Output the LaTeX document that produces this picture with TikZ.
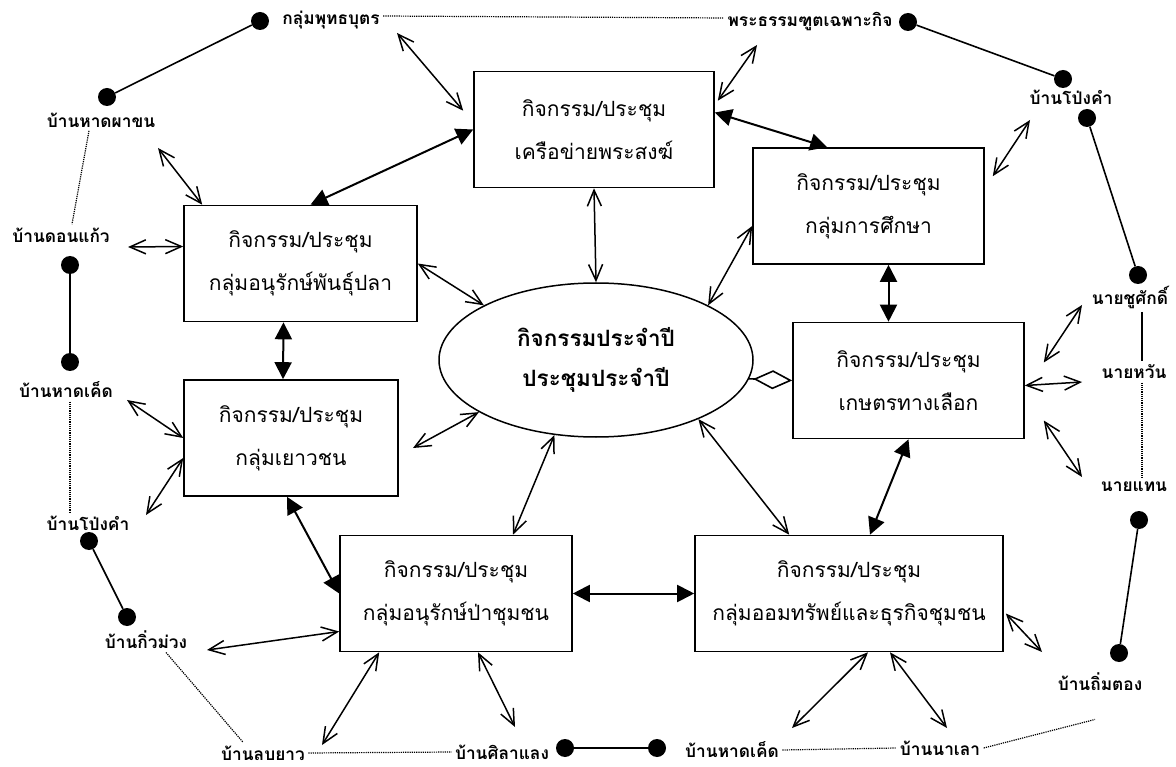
\documentclass[tikz,border=0pt]{standalone}
\usepackage{fontspec}
\newfontfamily\thai[Script=Thai]{Loma}
\usetikzlibrary{arrows.meta,shapes.geometric}

\tikzset{
  box/.style={draw, line width=1.6pt, minimum width=#1, minimum height=116pt,
    align=center, font=\thai\fontsize{21}{43}\selectfont},
  oval/.style={draw, ellipse, line width=1.5pt, minimum width=314pt, minimum height=154pt,
    align=center, inner sep=0pt, font=\thai\bfseries\fontsize{22.5}{40}\selectfont},
  place/.style={font=\thai\bfseries\fontsize{17.3}{20}\selectfont},
  dot/.style={circle, fill, inner sep=0pt, minimum size=18pt},
  link/.style={line width=1.6pt},
  dotline/.style={line width=1.2pt, dash pattern=on 1.2pt off 1pt},
  tarr/.style={{Straight Barb[length=16pt,width=14pt]}-{Straight Barb[length=16pt,width=14pt]}, line width=1.5pt},
  karr/.style={{Triangle[length=17pt,width=17pt]}-{Triangle[length=17pt,width=17pt]}, line width=2pt}
}

\begin{document}
\begin{tikzpicture}[x=1pt,y=-1pt]
\useasboundingbox (0,0) rectangle (1176,767);

% activity boxes
\node[box=240pt] (sangha) at (594,129.5) {กิจกรรม/ประชุม\\เครือข่ายพระสงฆ์};
\node[box=231pt] (suksa) at (868.5,206) {กิจกรรม/ประชุม\\กลุ่มการศึกษา};
\node[box=233pt] (pla) at (300.5,263.5) {กิจกรรม/ประชุม\\กลุ่มอนุรักษ์พันธุ์ปลา};
\node[box=214pt] (yaowa) at (291,438) {กิจกรรม/ประชุม\\กลุ่มเยาวชน};
\node[box=231pt] (kaset) at (908.5,380.5) {กิจกรรม/ประชุม\\เกษตรทางเลือก};
\node[box=232pt] (pa) at (456,593.5) {กิจกรรม/ประชุม\\กลุ่มอนุรักษ์ป่าชุมชน};
\node[box=308pt] (om) at (849,593.5) {กิจกรรม/ประชุม\\กลุ่มออมทรัพย์และธุรกิจชุมชน};
\node[oval] (ell) at (596,360) {กิจกรรมประจำปี\\ประชุมประจำปี};

% outer places
\node[place] (putta) at (331,20) {กลุ่มพุทธบุตร};
\node[place] (thut) at (810,22) {พระธรรมฑูตเฉพาะกิจ};
\node[place] (pongR) at (1071,97) {บ้านโป่งคำ};
\node[place] (phakhon) at (101,120) {บ้านหาดผาขน};
\node[place] (donkaeo) at (61,235) {บ้านดอนแก้ว};
\node[place] (khemL) at (66,390) {บ้านหาดเค็ด};
\node[place] (pongL) at (88,523) {บ้านโป่งคำ};
\node[place] (kiu) at (146,640) {บ้านกิ่วม่วง};
\node[place] (lop) at (263,753) {บ้านลบยาว};
\node[place] (sila) at (502,752) {บ้านศิลาแลง};
\node[place] (khemB) at (732,750) {บ้านหาดเค็ด};
\node[place] (nalao) at (940,748) {บ้านนาเลา};
\node[place] (thim) at (1100,682) {บ้านถิ่มตอง};
\node[place] (taen) at (1134,487) {นายแทน};
\node[place] (wan) at (1134,372) {นายหวัน};
\node[place] (chu) at (1130,297) {นายชูศักดิ์};

% dots
\node[dot] (d1) at (260,21) {};
\node[dot] (d2) at (107,97) {};
\node[dot] (d3) at (908,22) {};
\node[dot] (d4) at (1063,79) {};
\node[dot] (d5) at (1087,118) {};
\node[dot] (d6) at (1138,275) {};
\node[dot] (d7) at (70,265) {};
\node[dot] (d8) at (70,362) {};
\node[dot] (d9) at (89,541) {};
\node[dot] (d10) at (127,617) {};
\node[dot] (d11) at (565,748) {};
\node[dot] (d12) at (657,748) {};
\node[dot] (d13) at (1139,520) {};
\node[dot] (d14) at (1119,653) {};

\draw[link] (d1) -- (d2);
\draw[link] (d3) -- (d4);
\draw[link] (d5) -- (d6);
\draw[link] (d7) -- (d8);
\draw[link] (d9) -- (d10);
\draw[link] (d11) -- (d12);
\draw[link] (d13) -- (d14);
\draw[link] ([xshift=12pt]chu.south) -- ([xshift=12pt]chu.south |- wan.north);

% dotted ties
\draw[dotline] ([yshift=4pt]putta.east) -- ([yshift=4pt]thut.west);
\draw[dotline] ([xshift=-12pt]phakhon.south) -- ([xshift=11pt]donkaeo.north);
\draw[dotline] ([xshift=4pt]khemL.south) -- ([xshift=4pt]khemL.south |- pongL.north);
\draw[dotline] ([xshift=20pt]kiu.south) -- ([xshift=-20pt]lop.north);
\draw[dotline] (lop.east) -- (sila.west);
\draw[dotline] (khemB.east) -- (nalao.west);
\draw[dotline] (nalao.east) -- ([xshift=-5pt,yshift=-25pt]thim.south);
\draw[dotline] ([xshift=8pt]wan.south) -- ([xshift=8pt]wan.south |- taen.north);

% free ends of the thin arrows
\foreach \n/\x/\y in {t1/397/33, t2/757/45, t3/158/148, t4/128/247, t8/1030/120,
    t9/127/400, t10/146/515, t11/413/448, t14/207/650, t15/322/745, t16/515/727,
    t17/792/728, t18/947/728, t19/1042/652, t20/1082/305, t21/1082/382, t22/1082/477}
  \coordinate (\n) at (\x,\y);

% thin arrows
\draw[tarr] (t1) -- ([xshift=-10pt,yshift=-40pt]sangha.north west);
\draw[tarr] (t2) -- ([xshift=3pt,yshift=-30pt]sangha.north east);
\draw[tarr] (t3) -- ([xshift=19pt]pla.north west);
\draw[tarr] (t4) -- ([yshift=17pt]pla.west);
\draw[tarr] (pla.east) -- (ell.154);
\draw[tarr] (sangha.south) -- (ell.north);
\draw[tarr] ([yshift=-20pt]suksa.west) -- (ell.26);
\draw[tarr] (t8) -- ([xshift=8pt,yshift=-29pt]suksa.north east);
\draw[tarr] (t9) -- (yaowa.west);
\draw[tarr] ([yshift=-20pt]yaowa.west) -- (t10);
\draw[tarr] (t11) -- (ell.204);
\draw[tarr] (ell.241) -- ([xshift=57pt]pa.north);
\draw[tarr] (ell.330) -- ([xshift=95pt]om.north west);
\draw[tarr] (t14) -- ([yshift=-38pt]pa.west);
\draw[tarr] (t15) -- ([xshift=40pt]pa.south west);
\draw[tarr] ([xshift=22pt]pa.south) -- (t16);
\draw[tarr] ([xshift=19pt]om.south) -- (t17);
\draw[tarr] ([xshift=41pt]om.south) -- (t18);
\draw[tarr] ([xshift=2pt,yshift=-20pt]om.east) -- (t19);
\draw[tarr] ([xshift=19pt,yshift=18pt]kaset.east) -- (t20);
\draw[tarr] ([yshift=-5pt]kaset.east) -- (t21);
\draw[tarr] ([xshift=19pt,yshift=-40pt]kaset.east) -- (t22);

% thick arrows
\draw[karr] ([xshift=10pt]pla.north) -- (sangha.west);
\draw[karr] ([yshift=17pt]sangha.east) -- ([xshift=75pt]suksa.north west);
\draw[karr] ([xshift=20pt]suksa.south) -- ([xshift=-20pt]kaset.north);
\draw[karr] ([xshift=-17pt]pla.south) -- ([xshift=-8pt]yaowa.north);
\draw[karr] ([xshift=-4pt]yaowa.south) -- (pa.west);
\draw[karr] (pa.east) -- (om.west);
\draw[karr] ([xshift=21pt]om.north) -- (kaset.south);
\draw[link, -{Diamond[open,length=39pt,width=19pt]}] (ell.-7.5) -- (kaset.west);
\end{tikzpicture}
\end{document}
